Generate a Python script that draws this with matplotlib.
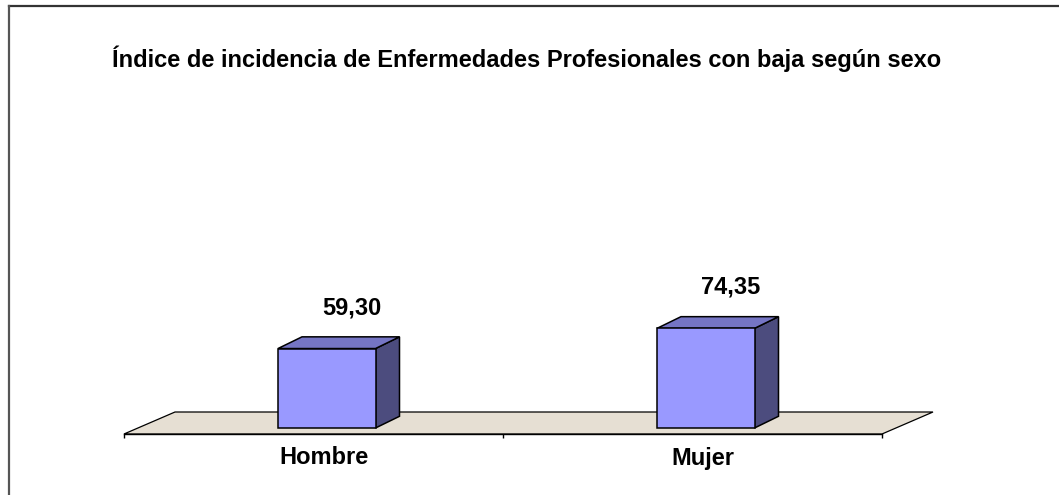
import matplotlib
matplotlib.use("Agg")
import matplotlib.pyplot as plt
from matplotlib.patches import Polygon, Rectangle
from matplotlib.lines import Line2D

# ---- data ----
categories = ["Hombre", "Mujer"]
values = [59.30, 74.35]
title = "Índice de incidencia de Enfermedades Profesionales con baja según sexo"

plt.rcParams['font.family'] = ['Liberation Sans', 'DejaVu Sans']

W, H, DPI = 1059, 495, 100
fig = plt.figure(figsize=(W / DPI, H / DPI), dpi=DPI)
fig.patch.set_facecolor("white")

# axes: x from -0.5..1.5 mapped to px 124..882 ; y bottom (floor front) at px 434
ax_left, ax_right = 124 / W, 882 / W
ax_bottom_px, ax_top_px = 434, 294
ax = fig.add_axes([ax_left, (H - ax_bottom_px) / H, ax_right - ax_left,
                   (ax_bottom_px - ax_top_px) / H])
ymin = -4.48
ax.set_xlim(-0.5, len(categories) - 0.5)
ax.set_ylim(ymin, 100)
ax.set_facecolor("none")
for s in ["top", "right", "left"]:
    ax.spines[s].set_visible(False)
ax.spines["bottom"].set_linewidth(1.0)
ax.spines["bottom"].set_zorder(5)
ax.set_yticks([])
ax.set_xticks([i - 0.5 for i in range(len(categories) + 1)])
ax.set_xticklabels([])
ax.tick_params(axis="x", direction="out", length=3, width=1.0)

# scale helpers (px -> data)
px_x = (len(categories)) / (882 - 124)
px_y = (100 - ymin) / (ax_bottom_px - ax_top_px)

# floor
fdx, fdy = 51 * px_x, 22 * px_y
x0f, x1f = -0.5, len(categories) - 0.5
floor = Polygon([(x0f, ymin), (x1f, ymin), (x1f + fdx, ymin + fdy), (x0f + fdx, ymin + fdy)],
                closed=True, facecolor="#E6DFD3", edgecolor="black", lw=0.9,
                clip_on=False, zorder=1)
ax.add_patch(floor)

# bars
bw = 97.5 * px_x
boff = -35.5 * px_x
ddx, ddy = 24 * px_x, 11.7 * px_y
front_c, top_c, side_c = "#9999FF", "#7575C4", "#4C4C7E"
for i, v in enumerate(values):
    x0 = i + boff
    x1 = x0 + bw
    ax.add_patch(Polygon([(x1, 0), (x1 + ddx, ddy), (x1 + ddx, v + ddy), (x1, v)],
                         closed=True, facecolor=side_c, edgecolor="black", lw=1.1,
                         clip_on=False, zorder=3, joinstyle="miter"))
    ax.add_patch(Polygon([(x0, v), (x1, v), (x1 + ddx, v + ddy), (x0 + ddx, v + ddy)],
                         closed=True, facecolor=top_c, edgecolor="black", lw=1.1,
                         clip_on=False, zorder=3, joinstyle="miter"))
    ax.add_patch(Rectangle((x0, 0), bw, v, facecolor=front_c, edgecolor="black",
                           lw=1.1, clip_on=False, zorder=4, joinstyle="miter"))
    lab = f"{v:.2f}".replace(".", ",")
    ax.text(i + 38 * px_x, v + 41 * px_y, lab, ha="center", va="center",
            fontsize=17, fontweight="bold", clip_on=False, zorder=6)
    ax.text(i + 10.5 * px_x, ymin - 24 * px_y, categories[i], ha="center", va="center",
            fontsize=17, fontweight="bold", clip_on=False, zorder=6)

# title
fig.text(526.5 / W, (H - 66.5) / H, title, ha="center", va="baseline",
         fontsize=17, fontweight="bold")

# frame lines (top and left)
fig.add_artist(Line2D([9 / W, 1.0], [(H - 5.5) / H, (H - 5.5) / H],
                      transform=fig.transFigure, color="#333333", lw=1.6))
fig.add_artist(Line2D([9 / W, 9 / W], [0, (H - 5.5) / H],
                      transform=fig.transFigure, color="#555555", lw=1.6))

fig.savefig("out.png", dpi=DPI)
